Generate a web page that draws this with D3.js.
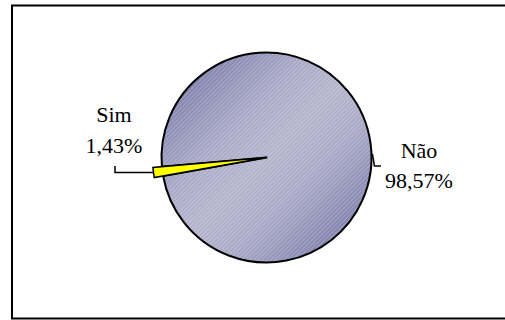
<!DOCTYPE html>
<html>
<head>
<meta charset="utf-8">
<script src="https://cdn.jsdelivr.net/npm/d3@7"></script>
<style>
  html, body { margin: 0; padding: 0; background: #fff; }
  svg { display: block; }
  text { font-family: "Liberation Serif", "Times New Roman", serif; font-size: 22px; fill: #000; }
</style>
</head>
<body>
<svg id="chart" width="505" height="320"></svg>
<script>
// Answers to the survey question
const categories = ["Não", "Sim"];
const percents = [98.57, 1.43];
const valueLabels = ["98,57%", "1,43%"];

const W = 505, H = 320;
const cx = 266.5, cy = 157.5, R = 105;
const explode = 9;           // extra reach of the small slice
const startDeg = 265;        // rotation of the first slice

const svg = d3.select("#chart");
const defs = svg.append("defs");

// Diagonal shaded fill: darker corners, wide lighter middle band
// (coordinates are in the pie group's own space, centred on 0,0)
const grad = defs.append("linearGradient")
  .attr("id", "naoGrad")
  .attr("gradientUnits", "userSpaceOnUse")
  .attr("x1", -R * 0.72).attr("y1", -R * 0.72)
  .attr("x2", R * 0.72).attr("y2", R * 0.72);
[[0, "#8282ae"], [0.3, "#a9a9c7"], [0.5, "#b4b4cd"], [0.7, "#a9a9c7"], [1, "#8282ae"]]
  .forEach(([o, c]) => grad.append("stop").attr("offset", o).attr("stop-color", c));

// Fine light hatching drawn over the shading
const hatch = defs.append("pattern")
  .attr("id", "hatch")
  .attr("patternUnits", "userSpaceOnUse")
  .attr("width", 3).attr("height", 3)
  .attr("patternTransform", "rotate(45)");
hatch.append("rect").attr("width", 1).attr("height", 3)
  .attr("fill", "#ffffff").attr("opacity", 0.22);

// Chart frame (open on the right edge)
svg.append("path")
  .attr("d", `M${W + 2},5.5 H12 V318.5 H${W + 2}`)
  .attr("fill", "none").attr("stroke", "#000").attr("stroke-width", 2);

const pie = d3.pie().sort(null)
  .startAngle(startDeg * Math.PI / 180)
  .endAngle((startDeg + 360) * Math.PI / 180);
const arcs = pie(percents);

const arcMain = d3.arc().innerRadius(0).outerRadius(R);
const arcSmall = d3.arc().innerRadius(0).outerRadius(R + explode);

const g = svg.append("g").attr("transform", `translate(${cx},${cy})`);

// Large slice
g.append("path")
  .attr("d", arcMain(arcs[0]))
  .attr("fill", "url(#naoGrad)");
g.append("path")
  .attr("d", arcMain(arcs[0]))
  .attr("fill", "url(#hatch)")
  .attr("stroke", "#000").attr("stroke-width", 2).attr("stroke-linejoin", "round");

// Small slice
g.append("path")
  .attr("d", arcSmall(arcs[1]))
  .attr("fill", "#ffff00")
  .attr("stroke", "#000").attr("stroke-width", 1.5).attr("stroke-linejoin", "miter");

// Leader lines and labels
function polar(angle, r) {
  return [cx + r * Math.sin(angle), cy - r * Math.cos(angle)];
}

// Sim: from the slice tip to the left, then up toward the label
const simMid = (arcs[1].startAngle + arcs[1].endAngle) / 2;
const simTip = polar(simMid, R + explode);
const simElbowX = 115;
svg.append("path")
  .attr("d", `M${simTip[0]},${simTip[1]} H${simElbowX} V${simTip[1] - 6.5}`)
  .attr("fill", "none").attr("stroke", "#000").attr("stroke-width", 1.5);

const simText = svg.append("text").attr("text-anchor", "middle");
simText.append("tspan").attr("x", 114).attr("y", 122).text(categories[1]);
simText.append("tspan").attr("x", 114).attr("y", 153).text(valueLabels[1]);

// Não: from the rim down, then right toward the label
const naoAngle = 88 * Math.PI / 180;
const naoPt = polar(naoAngle, R + 1);
svg.append("path")
  .attr("d", `M${naoPt[0]},${naoPt[1]} L${naoPt[0] + 2},166 H381`)
  .attr("fill", "none").attr("stroke", "#000").attr("stroke-width", 1.5);

const naoText = svg.append("text").attr("text-anchor", "middle");
naoText.append("tspan").attr("x", 419).attr("y", 158).text(categories[0]);
naoText.append("tspan").attr("x", 419).attr("y", 188).text(valueLabels[0]);
</script>
</body>
</html>
